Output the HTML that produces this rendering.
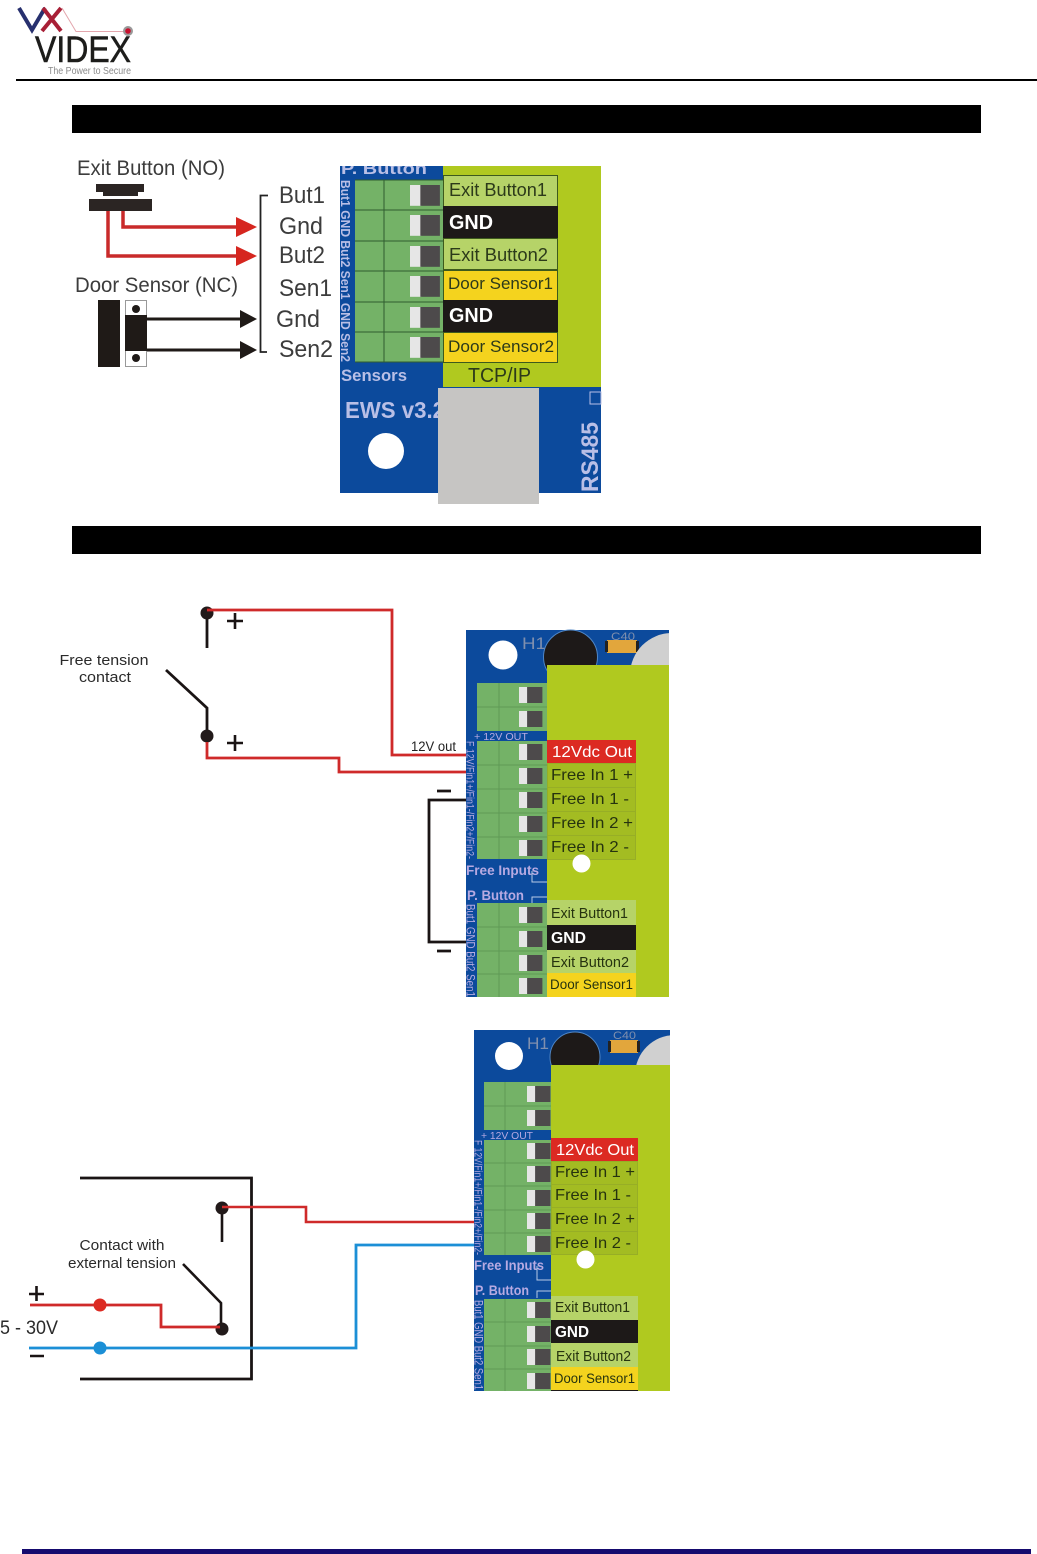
<!DOCTYPE html>
<html><head><meta charset="utf-8"><style>
html,body{margin:0;padding:0;background:#fff;width:1037px;height:1554px;overflow:hidden}
svg{display:block;filter:blur(.35px)}
text{font-family:"Liberation Sans",sans-serif}
</style></head><body>
<svg width="1037" height="1554" viewBox="0 0 1037 1554" xmlns="http://www.w3.org/2000/svg">
<defs>
<g id="sw"><rect x="0" y="0" width="10" height="16" fill="#e6e6e6"/><rect x="9" y="0" width="17" height="16" fill="#4d4a4b"/></g>
<clipPath id="c2"><rect x="466" y="630" width="203" height="367"/></clipPath>
<clipPath id="c3"><rect x="474" y="1030" width="196" height="361"/></clipPath>
</defs>
<rect width="1037" height="1554" fill="#fff"/>

<!-- logo -->
<path d="M19 8L32 30L45 8" fill="none" stroke="#27306e" stroke-width="4"/>
<path d="M43 8L61 31M61 8L42 31" fill="none" stroke="#a81f36" stroke-width="4"/>
<path d="M62 8L76 31.500H125" fill="none" stroke="#e3a6ad" stroke-width="1"/>
<circle cx="128" cy="31" r="5" fill="#999"/><circle cx="128" cy="31" r="2.800" fill="#c8102e"/>
<text x="35" y="62" font-size="37" fill="#1d1d1b" stroke="#1d1d1b" stroke-width=".6" textLength="96" lengthAdjust="spacingAndGlyphs">VIDEX</text>
<text x="48" y="74" font-size="10" fill="#8a8a8a" textLength="83" lengthAdjust="spacingAndGlyphs">The Power to Secure</text>
<rect x="16" y="79" width="1021" height="2" fill="#000"/>

<rect x="72" y="105" width="909" height="28" fill="#000"/>
<rect x="72" y="526" width="909" height="28" fill="#000"/>
<rect x="22" y="1549" width="1009" height="5" fill="#150a6e"/>

<!-- TOP LEFT -->
<g fill="#3c3c3c">
<text x="77" y="175" font-size="21" textLength="148" lengthAdjust="spacingAndGlyphs">Exit Button (NO)</text>
<text x="75" y="292" font-size="21" textLength="163" lengthAdjust="spacingAndGlyphs">Door Sensor (NC)</text>
<text x="279" y="203" font-size="24" textLength="46" lengthAdjust="spacingAndGlyphs">But1</text>
<text x="279" y="234" font-size="24" textLength="44" lengthAdjust="spacingAndGlyphs">Gnd</text>
<text x="279" y="263" font-size="24" textLength="46" lengthAdjust="spacingAndGlyphs">But2</text>
<text x="279" y="296" font-size="24" textLength="53" lengthAdjust="spacingAndGlyphs">Sen1</text>
<text x="276" y="327" font-size="24" textLength="44" lengthAdjust="spacingAndGlyphs">Gnd</text>
<text x="279" y="357" font-size="24" textLength="54" lengthAdjust="spacingAndGlyphs">Sen2</text>
</g>
<rect x="96" y="184" width="48" height="8" fill="#2b2523"/>
<rect x="103" y="192" width="35" height="4" fill="#2b2523"/>
<rect x="89" y="199" width="63" height="12" fill="#2b2523"/>
<path d="M123 211V227H238M108 211V256H238" fill="none" stroke="#c92a2a" stroke-width="3.500"/>
<path d="M236 217L257 227L236 237ZM236 246L257 256L236 266Z" fill="#d6261f"/>
<rect x="98" y="300" width="22" height="67" fill="#1f1a17"/>
<rect x="125.500" y="300.500" width="21" height="66" fill="#fff" stroke="#999"/>
<rect x="125" y="315" width="22" height="36" fill="#1f1a17"/>
<circle cx="136" cy="309" r="4" fill="#1f1a17"/><circle cx="136" cy="358" r="4" fill="#1f1a17"/>
<path d="M147 319H242M147 350H242" stroke="#1f1a17" stroke-width="3"/>
<path d="M240 310L257 319L240 328ZM240 341L257 350L240 359Z" fill="#1f1a17"/>
<path d="M268 195.500H260.500V352H267" fill="none" stroke="#222" stroke-width="1.800"/>

<!-- BOARD 1 -->
<rect x="340" y="166" width="261" height="327" fill="#0c4a9c"/>
<rect x="355" y="180" width="88" height="182" fill="#74b267"/>
<g stroke="#2f5c2f" stroke-width="1" fill="none">
<path d="M355 180H443M355 210H443M355 241H443M355 271H443M355 302H443M355 332H443M355 362H443M384 180V362"/>
</g>
<use href="#sw" transform="translate(410,185) scale(1.150,1.300)"/>
<use href="#sw" transform="translate(410,215) scale(1.150,1.300)"/>
<use href="#sw" transform="translate(410,246) scale(1.150,1.300)"/>
<use href="#sw" transform="translate(410,276) scale(1.150,1.300)"/>
<use href="#sw" transform="translate(410,307) scale(1.150,1.300)"/>
<use href="#sw" transform="translate(410,337) scale(1.150,1.300)"/>
<g fill="#b9bfe6">
<text x="341" y="174" font-size="17" font-weight="bold" textLength="86" lengthAdjust="spacingAndGlyphs">P. Button</text>
<text x="341" y="381" font-size="17" font-weight="bold" textLength="66" lengthAdjust="spacingAndGlyphs">Sensors</text>
<text x="345" y="418" font-size="23" font-weight="bold" textLength="100" lengthAdjust="spacingAndGlyphs">EWS v3.2</text>
<text transform="translate(341,180) rotate(90)" font-size="13" font-weight="bold" textLength="182" lengthAdjust="spacingAndGlyphs">But1 GND But2 Sen1 GND Sen2</text>
<text transform="translate(598,492) rotate(-90)" font-size="24" font-weight="bold" textLength="70" lengthAdjust="spacingAndGlyphs">RS485</text>
</g>
<rect x="443" y="166" width="158" height="221" fill="#b0c91f"/>
<rect x="438" y="388" width="101" height="116" fill="#c6c5c3"/>
<rect x="443.500" y="175.500" width="114" height="31" fill="#b6d368" stroke="#3d5a1c"/>
<rect x="443" y="206" width="115" height="32" fill="#1d1918"/>
<rect x="443.500" y="238.500" width="114" height="31" fill="#b6d368" stroke="#3d5a1c"/>
<rect x="443.500" y="270.500" width="114" height="30" fill="#f4d31e" stroke="#3d5a1c"/>
<rect x="443" y="300" width="115" height="32" fill="#1d1918"/>
<rect x="443.500" y="332.500" width="114" height="30" fill="#f4d31e" stroke="#3d5a1c"/>
<g fill="#2c3a1a">
<text x="449" y="196" font-size="18" textLength="98" lengthAdjust="spacingAndGlyphs">Exit Button1</text>
<text x="449" y="261" font-size="18" textLength="99" lengthAdjust="spacingAndGlyphs">Exit Button2</text>
<text x="448" y="289" font-size="17" textLength="105" lengthAdjust="spacingAndGlyphs">Door Sensor1</text>
<text x="448" y="352" font-size="17" textLength="106" lengthAdjust="spacingAndGlyphs">Door Sensor2</text>
<text x="468" y="382" font-size="20" textLength="63" lengthAdjust="spacingAndGlyphs">TCP/IP</text>
</g>
<g fill="#fff" font-weight="bold" font-size="20">
<text x="449" y="229" textLength="44" lengthAdjust="spacingAndGlyphs">GND</text>
<text x="449" y="322" textLength="44" lengthAdjust="spacingAndGlyphs">GND</text>
</g>
<rect x="338" y="160" width="264" height="6" fill="#fff"/>
<circle cx="386" cy="451" r="18" fill="#fff"/>
<rect x="590" y="392" width="11" height="12" fill="none" stroke="#b9bfe6"/>

<!-- BOARD 2 -->
<rect x="466" y="630" width="203" height="367" fill="#0c4a9c"/>
<circle cx="503" cy="655" r="14.500" fill="#fff"/>
<text x="522" y="649" font-size="17" fill="#7f8fae" textLength="24" lengthAdjust="spacingAndGlyphs">H1</text>
<circle cx="570.500" cy="657" r="27" fill="#1d1918" stroke="#4f86c6"/>
<text x="611" y="640" font-size="11" fill="#7f8fae" textLength="24" lengthAdjust="spacingAndGlyphs">C40</text>
<rect x="607" y="640" width="30" height="13" fill="#e2a63c"/>
<rect x="605" y="641" width="3" height="11" fill="#222"/>
<rect x="636" y="641" width="3" height="11" fill="#222"/>
<circle cx="672" cy="675" r="42" fill="#d0d0d0" clip-path="url(#c2)"/>
<rect x="477" y="683" width="70" height="48" fill="#74b267"/>
<rect x="477" y="741" width="70" height="118" fill="#74b267"/>
<rect x="477" y="903" width="70" height="94" fill="#74b267"/>
<path d="M477 707H547M477 765H547M477 789H547M477 813H547M477 837H547M477 927H547M477 951H547M477 974H547M499 683V731M499 741V859M499 903V997" stroke="#5f9a55" stroke-width="1"/>
<use href="#sw" transform="translate(519,687) scale(.9,1)"/>
<use href="#sw" transform="translate(519,711) scale(.9,1)"/>
<use href="#sw" transform="translate(519,744) scale(.9,1)"/>
<use href="#sw" transform="translate(519,768) scale(.9,1)"/>
<use href="#sw" transform="translate(519,792) scale(.9,1)"/>
<use href="#sw" transform="translate(519,816) scale(.9,1)"/>
<use href="#sw" transform="translate(519,840) scale(.9,1)"/>
<use href="#sw" transform="translate(519,907) scale(.9,1)"/>
<use href="#sw" transform="translate(519,931) scale(.9,1)"/>
<use href="#sw" transform="translate(519,955) scale(.9,1)"/>
<use href="#sw" transform="translate(519,978) scale(.9,1)"/>
<rect x="547" y="665" width="122" height="332" fill="#b0c91f"/>
<rect x="547" y="740" width="89" height="23" fill="#dc2a22"/>
<g fill="#a3bc22" stroke="#97ae26">
<rect x="547.500" y="763.500" width="88" height="24"/><rect x="547.500" y="787.500" width="88" height="24"/><rect x="547.500" y="811.500" width="88" height="24"/><rect x="547.500" y="835.500" width="88" height="24"/>
</g>
<circle cx="581.500" cy="863.500" r="9" fill="#fff"/>
<rect x="547" y="900" width="89" height="25" fill="#b6d368"/>
<rect x="547" y="925" width="89" height="25" fill="#1d1918"/>
<rect x="547" y="950" width="89" height="23" fill="#b6d368"/>
<rect x="547" y="973" width="89" height="24" fill="#f4d31e"/>
<text x="552" y="757" font-size="16" fill="#fff" textLength="80" lengthAdjust="spacingAndGlyphs">12Vdc Out</text>
<g fill="#26330f" font-size="16">
<text x="551" y="780" textLength="82" lengthAdjust="spacingAndGlyphs">Free In 1 +</text>
<text x="551" y="804" textLength="78" lengthAdjust="spacingAndGlyphs">Free In 1 -</text>
<text x="551" y="828" textLength="82" lengthAdjust="spacingAndGlyphs">Free In 2 +</text>
<text x="551" y="852" textLength="78" lengthAdjust="spacingAndGlyphs">Free In 2 -</text>
<text x="551" y="918" font-size="14.500" textLength="77" lengthAdjust="spacingAndGlyphs">Exit Button1</text>
<text x="551" y="967" font-size="14.500" textLength="78" lengthAdjust="spacingAndGlyphs">Exit Button2</text>
<text x="550" y="989" font-size="14" textLength="83" lengthAdjust="spacingAndGlyphs">Door Sensor1</text>
</g>
<text x="551" y="943" font-size="16" font-weight="bold" fill="#fff" textLength="35" lengthAdjust="spacingAndGlyphs">GND</text>
<g fill="#b7aae2">
<text x="474" y="740" font-size="10.500" textLength="54" lengthAdjust="spacingAndGlyphs">+ 12V OUT</text>
<text x="466" y="875" font-size="14" font-weight="bold" textLength="73" lengthAdjust="spacingAndGlyphs">Free Inputs</text>
<text x="467" y="900" font-size="14" font-weight="bold" textLength="57" lengthAdjust="spacingAndGlyphs">P. Button</text>
<text transform="translate(466.500,741) rotate(90)" font-size="11" textLength="118" lengthAdjust="spacingAndGlyphs">F 12V/Fin1+/Fin1-/Fin2+/Fin2-</text>
<text transform="translate(466.500,904) rotate(90)" font-size="12" textLength="93" lengthAdjust="spacingAndGlyphs">But1 GND But2 Sen1</text>
</g>
<path d="M532 871V882H547M532 903V897H547" fill="none" stroke="#b9cbe6" stroke-width="1"/>

<!-- MIDDLE WIRING -->
<path d="M207 613V648M166 670L207 708V737" fill="none" stroke="#1a1414" stroke-width="2.800"/>
<circle cx="207" cy="613" r="6.500" fill="#221a1a"/>
<circle cx="207" cy="736" r="6.500" fill="#221a1a"/>
<path d="M207 610H392V755H466" fill="none" stroke="#cf2a2a" stroke-width="2.800"/>
<path d="M207 742V758H339V772H466" fill="none" stroke="#cf2a2a" stroke-width="2.800"/>
<path d="M227 621H243M235 613V629M227 743H243M235 735V751" stroke="#1a1414" stroke-width="2.600"/>
<g fill="#2a2a2a" font-size="15" text-anchor="middle">
<text x="104" y="665" textLength="89" lengthAdjust="spacingAndGlyphs">Free tension</text>
<text x="105" y="682" textLength="52" lengthAdjust="spacingAndGlyphs">contact</text>
</g>
<text x="411" y="751" font-size="13.500" fill="#222" textLength="45" lengthAdjust="spacingAndGlyphs">12V out</text>
<path d="M466 800H429V942H466" fill="none" stroke="#1a1414" stroke-width="2.800"/>
<path d="M437 791H451M437 951H451" stroke="#1a1414" stroke-width="2.800"/>

<!-- BOARD 3 -->
<rect x="474" y="1030" width="196" height="361" fill="#0c4a9c"/>
<circle cx="509" cy="1056" r="14" fill="#fff"/>
<text x="527" y="1049" font-size="17" fill="#7f8fae" textLength="22" lengthAdjust="spacingAndGlyphs">H1</text>
<circle cx="575" cy="1057" r="25" fill="#1d1918" stroke="#4f86c6"/>
<text x="613" y="1039" font-size="11" fill="#7f8fae" textLength="23" lengthAdjust="spacingAndGlyphs">C40</text>
<rect x="610" y="1040" width="28" height="13" fill="#e2a63c"/>
<rect x="608" y="1041" width="3" height="11" fill="#222"/>
<rect x="637" y="1041" width="3" height="11" fill="#222"/>
<circle cx="675" cy="1075" r="40" fill="#d0d0d0" clip-path="url(#c3)"/>
<rect x="484" y="1082" width="67" height="48" fill="#74b267"/>
<rect x="484" y="1140" width="67" height="115" fill="#74b267"/>
<rect x="484" y="1299" width="67" height="92" fill="#74b267"/>
<path d="M484 1106H551M484 1163H551M484 1186H551M484 1210H551M484 1233H551M484 1322H551M484 1346H551M484 1369H551M505 1082V1130M505 1140V1255M505 1299V1391" stroke="#5f9a55" stroke-width="1"/>
<use href="#sw" transform="translate(527,1086) scale(.9,1)"/>
<use href="#sw" transform="translate(527,1110) scale(.9,1)"/>
<use href="#sw" transform="translate(527,1143) scale(.9,1)"/>
<use href="#sw" transform="translate(527,1166) scale(.9,1)"/>
<use href="#sw" transform="translate(527,1190) scale(.9,1)"/>
<use href="#sw" transform="translate(527,1213) scale(.9,1)"/>
<use href="#sw" transform="translate(527,1236) scale(.9,1)"/>
<use href="#sw" transform="translate(527,1302) scale(.9,1)"/>
<use href="#sw" transform="translate(527,1326) scale(.9,1)"/>
<use href="#sw" transform="translate(527,1349) scale(.9,1)"/>
<use href="#sw" transform="translate(527,1373) scale(.9,1)"/>
<rect x="551" y="1065" width="119" height="326" fill="#b0c91f"/>
<rect x="551" y="1138" width="87" height="23" fill="#dc2a22"/>
<g fill="#a3bc22" stroke="#97ae26">
<rect x="551.500" y="1161.500" width="86" height="23"/><rect x="551.500" y="1184.500" width="86" height="23"/><rect x="551.500" y="1207.500" width="86" height="24"/><rect x="551.500" y="1231.500" width="86" height="23"/>
</g>
<circle cx="585.500" cy="1259.500" r="9" fill="#fff"/>
<rect x="551" y="1296" width="87" height="24" fill="#b6d368"/>
<rect x="551" y="1320" width="87" height="23" fill="#1d1918"/>
<rect x="551" y="1343" width="87" height="24" fill="#b6d368"/>
<rect x="551" y="1367" width="87" height="23" fill="#f4d31e"/>
<rect x="551" y="1390" width="87" height="1" fill="#1d1918"/>
<text x="556" y="1155" font-size="16" fill="#fff" textLength="78" lengthAdjust="spacingAndGlyphs">12Vdc Out</text>
<g fill="#26330f" font-size="16">
<text x="555" y="1177" textLength="80" lengthAdjust="spacingAndGlyphs">Free In 1 +</text>
<text x="555" y="1200" textLength="76" lengthAdjust="spacingAndGlyphs">Free In 1 -</text>
<text x="555" y="1224" textLength="80" lengthAdjust="spacingAndGlyphs">Free In 2 +</text>
<text x="555" y="1248" textLength="76" lengthAdjust="spacingAndGlyphs">Free In 2 -</text>
<text x="555" y="1312" font-size="14.500" textLength="75" lengthAdjust="spacingAndGlyphs">Exit Button1</text>
<text x="556" y="1361" font-size="14.500" textLength="75" lengthAdjust="spacingAndGlyphs">Exit Button2</text>
<text x="554" y="1383" font-size="13.500" textLength="81" lengthAdjust="spacingAndGlyphs">Door Sensor1</text>
</g>
<text x="555" y="1337" font-size="16" font-weight="bold" fill="#fff" textLength="34" lengthAdjust="spacingAndGlyphs">GND</text>
<g fill="#b7aae2">
<text x="481" y="1139" font-size="10.500" textLength="52" lengthAdjust="spacingAndGlyphs">+ 12V OUT</text>
<text x="474" y="1270" font-size="14" font-weight="bold" textLength="70" lengthAdjust="spacingAndGlyphs">Free Inputs</text>
<text x="475" y="1295" font-size="14" font-weight="bold" textLength="54" lengthAdjust="spacingAndGlyphs">P. Button</text>
<text transform="translate(474.500,1140) rotate(90)" font-size="11" textLength="115" lengthAdjust="spacingAndGlyphs">F 12V/Fin1+/Fin1-/Fin2+/Fin2-</text>
<text transform="translate(474.500,1300) rotate(90)" font-size="12" textLength="90" lengthAdjust="spacingAndGlyphs">But1 GND But2 Sen1</text>
</g>
<path d="M537 1266V1280H551M537 1298V1291H551" fill="none" stroke="#b9cbe6" stroke-width="1"/>

<!-- BOTTOM WIRING -->
<path d="M80 1178H251.500V1379H80" fill="none" stroke="#1a1414" stroke-width="2.800"/>
<path d="M222 1208V1242M183 1264L221 1303V1329" fill="none" stroke="#1a1414" stroke-width="2.600"/>
<circle cx="222" cy="1208" r="6.500" fill="#221a1a"/>
<circle cx="222" cy="1329" r="6.500" fill="#221a1a"/>
<path d="M222 1207H306V1222H474" fill="none" stroke="#cf2a2a" stroke-width="2.600"/>
<path d="M30 1305H161V1327H220" fill="none" stroke="#cf2a2a" stroke-width="2.800"/>
<path d="M29 1348H356V1245H474" fill="none" stroke="#1b8fd6" stroke-width="2.800"/>
<circle cx="100" cy="1305" r="6.500" fill="#dc2a22"/>
<circle cx="100" cy="1348" r="6.500" fill="#1b8fd6"/>
<path d="M29 1294H44M36.500 1286V1301M30 1356H44" stroke="#1a1414" stroke-width="2.600"/>
<g fill="#2a2a2a" font-size="15" text-anchor="middle">
<text x="122" y="1250" textLength="85" lengthAdjust="spacingAndGlyphs">Contact with</text>
<text x="122" y="1268" textLength="108" lengthAdjust="spacingAndGlyphs">external tension</text>
</g>
<text x="0" y="1334" font-size="19" fill="#2a2a2a" textLength="58" lengthAdjust="spacingAndGlyphs">5 - 30V</text>
</svg>
</body></html>
